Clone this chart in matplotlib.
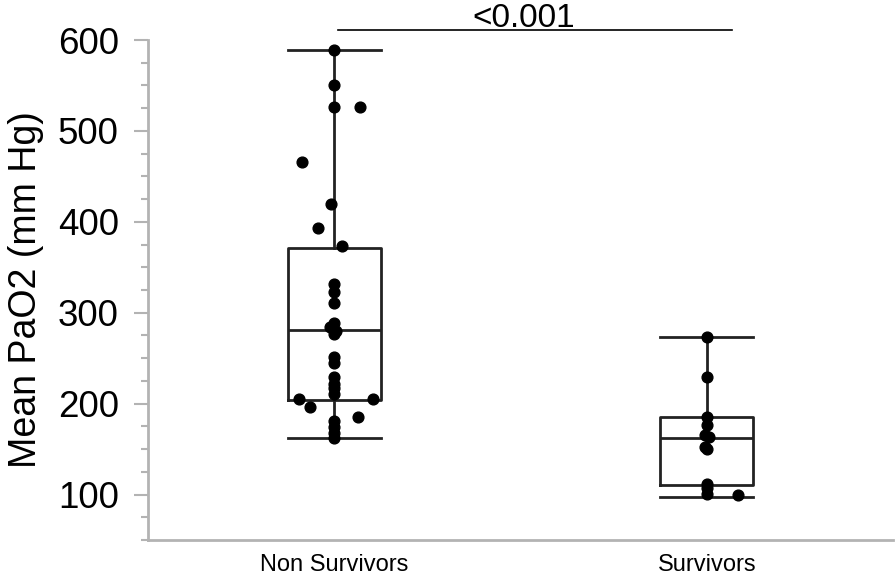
import matplotlib
matplotlib.use("Agg")
import matplotlib.pyplot as plt
from matplotlib.ticker import MultipleLocator

plt.rcParams['font.family'] = ['Liberation Sans', 'DejaVu Sans']

groups = ["Non Survivors", "Survivors"]

# individual patients (mean PaO2, mm Hg) and their horizontal jitter
non_surv = [589, 550, 526, 526, 466, 420, 393, 373, 332, 323, 311, 289, 284,
            280, 277, 251, 245, 229, 222, 217, 211, 205, 205, 196, 185, 181,
            174, 168, 162]
non_surv_dx = [0, 0, 0, 0.07, -0.086, -0.008, -0.043, 0.02, 0, 0, 0, 0, -0.01,
               0.005, 0, 0, 0, 0, 0, 0, 0, -0.094, 0.105, -0.064, 0.064, 0,
               0, 0, 0]
surv = [273, 229, 185, 177, 165, 163, 152, 150, 112, 107, 101, 99]
surv_dx = [0, 0, 0, 0, -0.005, 0.005, -0.005, 0, 0, 0, 0, 0.083]

# box summaries: q1, median, q3, whisker low, whisker high
q1 = [203.5, 111]
med = [281.5, 162]
q3 = [371, 185]
wlo = [162, 97]
whi = [589, 273]

p_text = "<0.001"

fig = plt.figure(figsize=(8.96, 5.76), dpi=100)
ax = fig.add_axes([0.165, 0.0625, 0.8317, 0.868])

stats = []
for i in range(len(groups)):
    stats.append({"q1": q1[i], "med": med[i], "q3": q3[i],
                  "whislo": wlo[i], "whishi": whi[i], "label": groups[i]})

lw = 2.0
ax.bxp(stats, positions=[0, 1], widths=0.25, showfliers=False,
       boxprops=dict(color="#222222", linewidth=lw),
       medianprops=dict(color="#222222", linewidth=lw),
       whiskerprops=dict(color="#222222", linewidth=lw),
       capprops=dict(color="#222222", linewidth=lw),
       capwidths=0.25)

ax.scatter([0 + d for d in non_surv_dx], non_surv, s=60, color="black", zorder=3)
ax.scatter([1 + d for d in surv_dx], surv, s=60, color="black", zorder=3)

ax.set_xlim(-0.5, 1.5)
ax.set_ylim(50, 600)
ax.yaxis.set_major_locator(MultipleLocator(100))
ax.yaxis.set_minor_locator(MultipleLocator(25))
ax.set_yticks([100, 200, 300, 400, 500, 600])

for s in ["top", "right"]:
    ax.spines[s].set_visible(False)
for s in ["left", "bottom"]:
    ax.spines[s].set_color("#b3b3b3")
    ax.spines[s].set_linewidth(2)

ax.tick_params(axis="y", which="major", length=10, width=1.5, color="#b3b3b3",
               labelsize=26.5, pad=11)
ax.tick_params(axis="y", which="minor", length=5, width=1.5, color="#b3b3b3")
ax.tick_params(axis="x", length=0, labelsize=17, pad=10)
ax.set_ylabel("Mean PaO2 (mm Hg)", fontsize=27, labelpad=10)

# significance bar
ax.plot([0.01, 1.067], [611, 611], color="black", linewidth=1.2, clip_on=False)
ax.text(0.51, 614, p_text, ha="center", va="baseline", fontsize=24)

fig.savefig("out.png", dpi=100)
